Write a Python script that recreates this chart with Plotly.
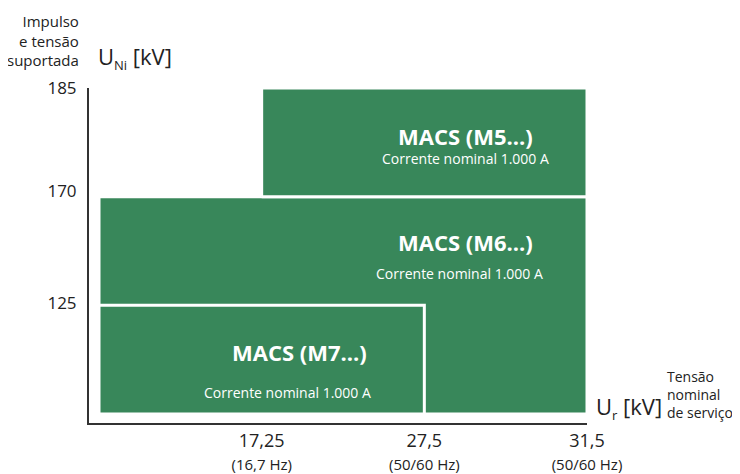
import plotly.graph_objects as go

# ---- data ----
ur_tick_labels = ["17,25", "27,5", "31,5"]
ur_tick_freq = ["(16,7 Hz)", "(50/60 Hz)", "(50/60 Hz)"]
ur_levels = [1, 2, 3]          # positions of the rated-voltage steps

uni_tick_labels = ["125", "170", "185"]
uni_levels = [1, 2, 3]         # positions of the impulse-voltage steps

series_names = ["MACS (M6...)", "MACS (M5...)", "MACS (M7...)"]
series_x0 = [0, 1, 0]          # start level on U_r axis
series_x1 = [3, 3, 2]          # end level on U_r axis
series_y0 = [0, 2, 0]          # start level on U_Ni axis
series_y1 = [2, 3, 1]          # end level on U_Ni axis
series_sub = ["Corrente nominal 1.000 A"] * 3
# label anchor positions
title_pos = [(2.256, 1.58), (2.256, 2.562), (1.235, 0.569)]
sub_pos = [(2.215, 1.295), (2.256, 2.35), (1.16, 0.202)]

GREEN = "#38875A"
FONT = "Open Sans"
TXT = "#222222"

fig = go.Figure()
for i, name in enumerate(series_names):
    x0, x1, y0, y1 = series_x0[i], series_x1[i], series_y0[i], series_y1[i]
    fig.add_trace(go.Scatter(
        x=[x0, x1, x1, x0, x0], y=[y0, y0, y1, y1, y0],
        fill="toself", fillcolor=GREEN, mode="lines",
        line=dict(color="white", width=3), hoverinfo="skip", showlegend=False,
    ))
    fig.add_annotation(x=title_pos[i][0], y=title_pos[i][1], xref="x", yref="y",
                       text="<b>" + name + "</b>", showarrow=False,
                       font=dict(family=FONT, size=22, color="white"))
    fig.add_annotation(x=sub_pos[i][0], y=sub_pos[i][1], xref="x", yref="y",
                       text=series_sub[i], showarrow=False,
                       font=dict(family=FONT, size=14, color="white"))

x_ticktext = [f"{a}<br><span style='font-size:15px'>{b}</span>"
              for a, b in zip(ur_tick_labels, ur_tick_freq)]

# page body has an 8px margin, so the figure is sized to fit inside the window
fig.update_layout(
    width=732, height=466,
    margin=dict(l=81, r=153, t=80, b=51, autoexpand=False),
    paper_bgcolor="white", plot_bgcolor="white",
    font=dict(family=FONT, color=TXT),
    xaxis=dict(range=[-0.0615, 3.0], showgrid=False, zeroline=False,
               showline=True, linecolor="#333333", linewidth=2,
               tickvals=ur_levels, ticktext=x_ticktext, ticks="",
               ticklabelstandoff=0, tickfont=dict(family=FONT, size=18, color=TXT)),
    yaxis=dict(range=[-0.083, 3.0], showgrid=False, zeroline=False,
               showline=True, linecolor="#333333", linewidth=2,
               tickvals=[v + d for v, d in zip(uni_levels, [0.02, 0.05, 0.0])],
               ticktext=uni_tick_labels, ticks="",
               ticklabelstandoff=7, tickfont=dict(family=FONT, size=17, color=TXT)),
)

# axis titles
fig.add_annotation(xref="paper", yref="paper", x=0.014, y=1.0925,
                   xanchor="left", yanchor="middle", showarrow=False,
                   text="U<sub><span style='font-size:13px'>Ni</span></sub> [kV]",
                   font=dict(family=FONT, size=22, color=TXT))
fig.add_annotation(xref="paper", yref="paper", x=-0.016, y=1.1418,
                   xanchor="right", yanchor="middle", align="right", showarrow=False,
                   text="Impulso<br>e tensão<br>suportada",
                   font=dict(family=FONT, size=15, color=TXT))
fig.add_annotation(xref="paper", yref="paper", x=1.014, y=0.0448,
                   xanchor="left", yanchor="middle", showarrow=False,
                   text="U<sub><span style='font-size:13px'>r</span></sub> [kV]",
                   font=dict(family=FONT, size=22, color=TXT))
fig.add_annotation(xref="paper", yref="paper", x=1.156, y=0.0836,
                   xanchor="left", yanchor="middle", align="left", showarrow=False,
                   text="Tensão<br>nominal<br>de serviço",
                   font=dict(family=FONT, size=14, color=TXT))

fig.write_html("out.html")
